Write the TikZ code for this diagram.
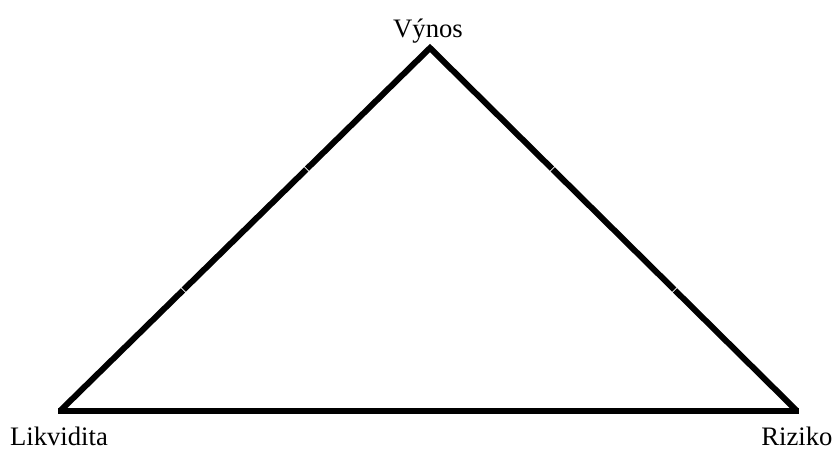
\documentclass[tikz,border=0pt]{standalone}
\usepackage{fontspec}
\setmainfont{Liberation Serif}
\usetikzlibrary{calc}

\begin{document}
\begin{tikzpicture}[x=.75pt,y=-.75pt,line width=4.5pt,line cap=butt,
    vertex/.style={inner sep=1pt,font=\fontsize{20}{24}\selectfont},
    side/.style={shorten <=.4pt,shorten >=.4pt}]
  \useasboundingbox (0,0) rectangle (835,450);
  \coordinate (v) at (430,48);
  \coordinate (l) at (60,411);
  \coordinate (r) at (797,411);

  \node[vertex,anchor=base] (vynos) at (428,37) {Výnos};
  \node[vertex,anchor=base] (likv) at (59,445) {Likvidita};
  \node[vertex,anchor=base] (riz) at (797,445) {Riziko};

  \coordinate (l1) at ($(v)!1/3!(l)$);
  \coordinate (l2) at ($(v)!2/3!(l)$);
  \coordinate (r1) at ($(v)!1/3!(r)$);
  \coordinate (r2) at ($(v)!2/3!(r)$);

  \draw[line join=miter,side] (l1) -- (v) -- (r1);
  \draw[side] (l1) -- (l2);
  \draw[side] (l2) -- (l);
  \draw[side] (r1) -- (r2);
  \draw[side] (r2) -- (r);
  \draw ([xshift=-1.5pt]l) -- ([xshift=1.5pt]r);
\end{tikzpicture}
\end{document}
